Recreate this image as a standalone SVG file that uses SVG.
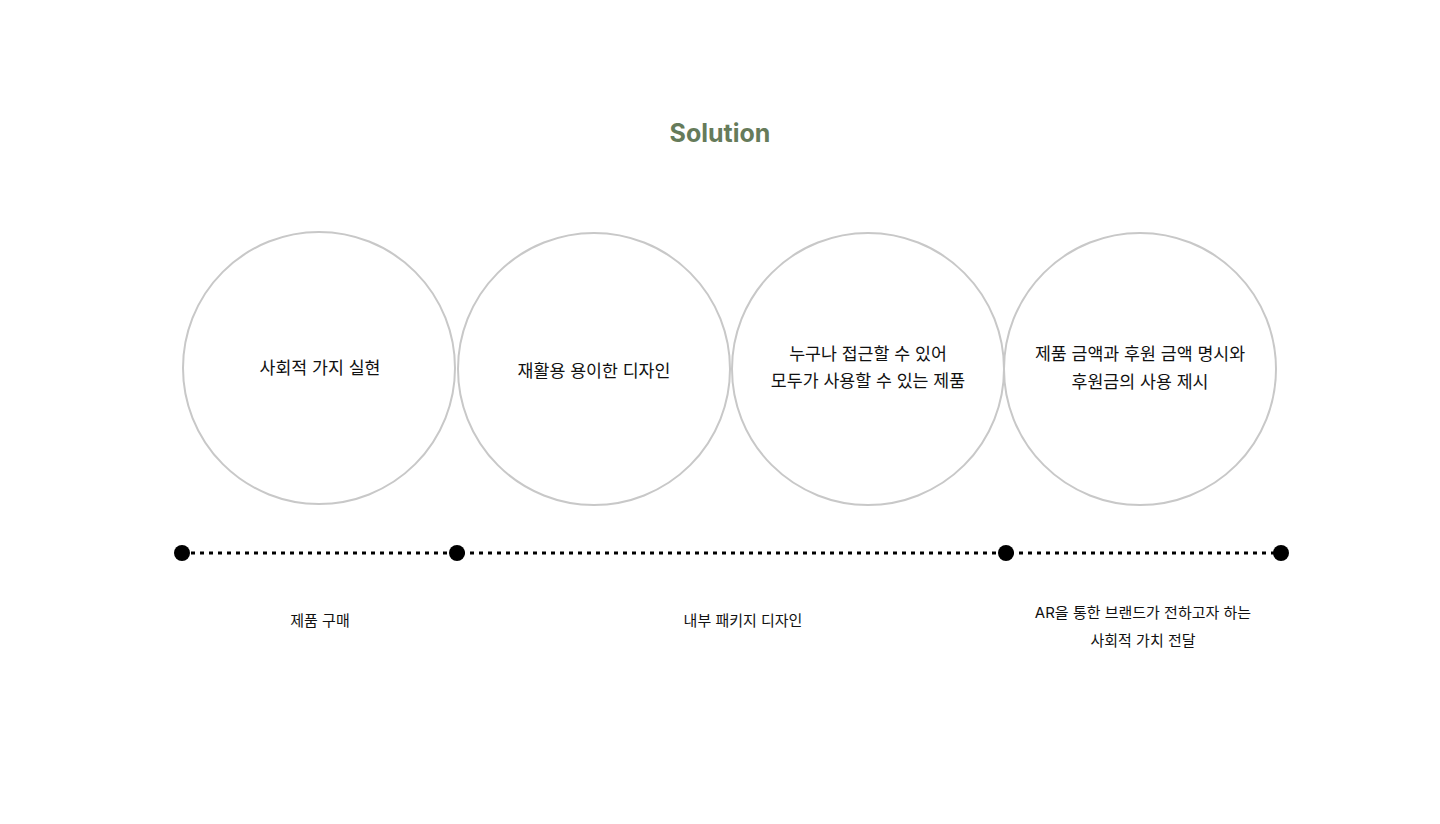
<svg xmlns="http://www.w3.org/2000/svg" width="1440" height="824" viewBox="0 0 1440 824">
<style>
.c{fill:#fff;stroke:#c8c8c8;stroke-width:2}
.t{font-family:"Inter","Noto Sans CJK KR",sans-serif;font-size:17.3px;font-weight:400;fill:#111;text-anchor:middle}
.b{font-family:"Inter","Noto Sans CJK KR",sans-serif;font-size:15px;font-weight:400;fill:#111;text-anchor:middle}
.d{fill:#000}
</style>
<rect width="1440" height="824" fill="#fff"/>
<text x="720" y="142" style="font-family:Inter,'Noto Sans CJK KR',sans-serif;font-size:25px;font-weight:700;fill:#667b5a;text-anchor:middle">Solution</text>
<g id="circle1"><circle class="c" cx="319" cy="368" r="136"/><text class="t" x="320" y="374">사회적 가지 실현</text></g>
<g id="circle2"><circle class="c" cx="594" cy="369" r="136"/><text class="t" x="594" y="377">재활용 용이한 디자인</text></g>
<g id="circle3"><circle class="c" cx="868" cy="369" r="136"/><text class="t" x="868" y="360">누구나 접근할 수 있어</text><text class="t" x="868" y="387">모두가 사용할 수 있는 제품</text></g>
<g id="circle4"><circle class="c" cx="1140" cy="369" r="136"/><text class="t" x="1140" y="360">제품 금액과 후원 금액 명시와</text><text class="t" x="1140" y="388">후원금의 사용 제시</text></g>
<g id="connectors"><line x1="182" y1="553" x2="1281" y2="553" stroke="#000" stroke-width="3" stroke-dasharray="4 5"/></g>
<g id="dot1"><circle class="d" cx="182" cy="553" r="8"/></g>
<g id="dot2"><circle class="d" cx="457" cy="553" r="8"/></g>
<g id="dot3"><circle class="d" cx="1006" cy="553" r="8"/></g>
<g id="dot4"><circle class="d" cx="1281" cy="553" r="8"/></g>
<g id="label1"><text class="b" x="320" y="626">제품 구매</text></g>
<g id="label2"><text class="b" x="743" y="626">내부 패키지 디자인</text></g>
<g id="label3"><text class="b" x="1143" y="618">AR을 통한 브랜드가 전하고자 하는</text><text class="b" x="1143" y="646">사회적 가치 전달</text></g>
</svg>
